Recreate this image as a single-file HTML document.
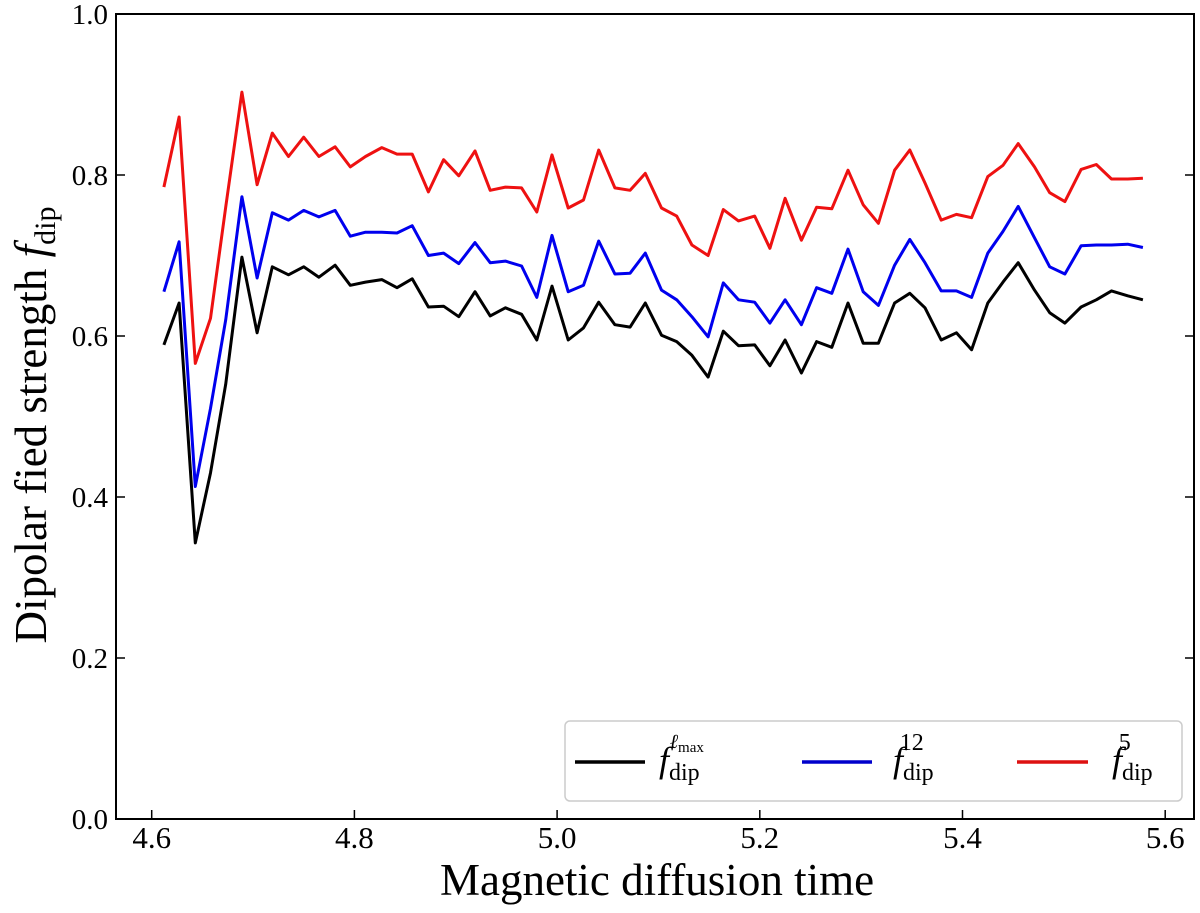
<!DOCTYPE html>
<html><head><meta charset="utf-8"><style>
html,body{margin:0;padding:0;background:#fff;}
svg{display:block;font-family:"Liberation Serif",serif;}
</style></head><body>
<svg id="chart" width="1200" height="913" viewBox="0 0 1200 913">
<rect x="116" y="14" width="1078" height="805" fill="#fff" stroke="#000" stroke-width="2"/>
<g id="xticks"></g>
<g id="yticks"></g>
<g id="lines"></g>
<text x="657" y="895" font-size="45" text-anchor="middle">Magnetic diffusion time</text>
<text transform="translate(46,425) rotate(-90)" font-size="45" text-anchor="middle">Dipolar fied strength <tspan font-style="italic">f</tspan><tspan font-size="30" dy="9">dip</tspan></text>
<g>
<rect x="565" y="721" width="617" height="80" rx="5" fill="#fff" stroke="#ccc" stroke-width="1.5"/>
<line x1="575" y1="762" x2="645" y2="762" stroke="#000" stroke-width="3.5"/>
<text x="659" y="772" font-size="36"><tspan font-style="italic">f</tspan><tspan font-size="24" dy="8">dip</tspan><tspan font-size="20" dy="-32" dx="-30" font-style="italic">ℓ</tspan><tspan font-size="15" dy="4">max</tspan></text>
<line x1="802" y1="762" x2="872" y2="762" stroke="#0000cc" stroke-width="3.5"/>
<text x="893" y="772" font-size="36"><tspan font-style="italic">f</tspan><tspan font-size="24" dy="8">dip</tspan><tspan font-size="24" dy="-30" dx="-34">12</tspan></text>
<line x1="1017" y1="762" x2="1088" y2="762" stroke="#dd1111" stroke-width="3.5"/>
<text x="1112" y="772" font-size="36"><tspan font-style="italic">f</tspan><tspan font-size="24" dy="8">dip</tspan><tspan font-size="24" dy="-30" dx="-34">5</tspan></text>
</g>
</svg>
<script>
const xTickValues = [4.6, 4.8, 5.0, 5.2, 5.4, 5.6];
const xTickLabels = ["4.6", "4.8", "5.0", "5.2", "5.4", "5.6"];
const yTickValues = [0, 0.2, 0.4, 0.6, 0.8, 1.0];
const yTickLabels = ["0.0", "0.2", "0.4", "0.6", "0.8", "1.0"];
const times = [4.612,4.627,4.643,4.658,4.673,4.689,4.704,4.719,4.735,4.750,4.765,4.781,4.796,4.811,4.827,4.842,4.857,4.873,4.888,4.903,4.919,4.934,4.949,4.965,4.980,4.995,5.011,5.026,5.041,5.057,5.072,5.087,5.103,5.118,5.133,5.149,5.164,5.179,5.195,5.210,5.225,5.241,5.256,5.271,5.287,5.302,5.317,5.333,5.348,5.363,5.379,5.394,5.409,5.425,5.440,5.455,5.471,5.486,5.501,5.517,5.532,5.547,5.563,5.578];
const fLmax = [0.589,0.641,0.343,0.43,0.54,0.698,0.604,0.686,0.676,0.686,0.673,0.688,0.663,0.667,0.670,0.660,0.671,0.636,0.637,0.624,0.655,0.625,0.635,0.627,0.595,0.662,0.595,0.610,0.642,0.614,0.611,0.641,0.601,0.593,0.576,0.549,0.606,0.588,0.589,0.563,0.595,0.554,0.593,0.586,0.641,0.591,0.591,0.641,0.653,0.635,0.595,0.604,0.583,0.641,0.667,0.691,0.657,0.629,0.616,0.636,0.645,0.656,0.650,0.645];
const f12 = [0.655,0.717,0.413,0.51,0.62,0.773,0.672,0.753,0.744,0.756,0.748,0.756,0.724,0.729,0.729,0.728,0.737,0.700,0.703,0.690,0.716,0.691,0.693,0.687,0.648,0.725,0.655,0.663,0.718,0.677,0.678,0.703,0.657,0.645,0.624,0.599,0.666,0.645,0.642,0.616,0.645,0.614,0.660,0.653,0.708,0.655,0.638,0.688,0.720,0.691,0.656,0.656,0.648,0.703,0.73,0.761,0.722,0.686,0.677,0.712,0.713,0.713,0.714,0.710];
const f5 = [0.785,0.872,0.566,0.622,0.76,0.903,0.788,0.852,0.823,0.847,0.823,0.835,0.810,0.823,0.834,0.826,0.826,0.779,0.819,0.799,0.830,0.781,0.785,0.784,0.754,0.825,0.759,0.769,0.831,0.784,0.781,0.802,0.759,0.749,0.713,0.700,0.757,0.743,0.749,0.709,0.771,0.719,0.760,0.758,0.806,0.763,0.740,0.806,0.831,0.79,0.744,0.751,0.747,0.798,0.812,0.839,0.81,0.778,0.767,0.807,0.813,0.795,0.795,0.796];

const NS = "http://www.w3.org/2000/svg";
function xScale(t){ return 151.7 + (t - 4.6) * 1013.5; }
function yScale(v){ return 819 - v * 805; }
const xg = document.getElementById('xticks');
const yg = document.getElementById('yticks');
const lg = document.getElementById('lines');
xTickValues.forEach(function(v, i){
  const x = xScale(v);
  const tk = document.createElementNS(NS, 'line');
  tk.setAttribute('x1', x); tk.setAttribute('x2', x);
  tk.setAttribute('y1', 819); tk.setAttribute('y2', 810);
  tk.setAttribute('stroke', '#000'); tk.setAttribute('stroke-width', 1.5);
  
  
  xg.appendChild(tk);
  const tx = document.createElementNS(NS, 'text');
  tx.setAttribute('x', x); tx.setAttribute('y', 848);
  tx.setAttribute('font-size', 31); tx.setAttribute('text-anchor', 'middle');
  tx.textContent = xTickLabels[i];
  
  
  xg.appendChild(tx);
});
yTickValues.forEach(function(v, i){
  const y = yScale(v);
  [[116, 125], [1185, 1194]].forEach(function(p){
    const tk = document.createElementNS(NS, 'line');
    tk.setAttribute('x1', p[0]); tk.setAttribute('x2', p[1]);
    tk.setAttribute('y1', y); tk.setAttribute('y2', y);
    tk.setAttribute('stroke', '#000'); tk.setAttribute('stroke-width', 1.5);
    
    
    yg.appendChild(tk);
  });
  const tx = document.createElementNS(NS, 'text');
  tx.setAttribute('x', 108); tx.setAttribute('y', y + 10);
  tx.setAttribute('font-size', 29); tx.setAttribute('text-anchor', 'end');
  tx.textContent = yTickLabels[i];
  
  
  yg.appendChild(tx);
});
function drawSeries(vals, color, name){
  const pts = vals.map(function(v, i){ return xScale(times[i]).toFixed(1) + ',' + yScale(v).toFixed(1); }).join(' ');
  const pl = document.createElementNS(NS, 'polyline');
  pl.setAttribute('points', pts);
  pl.setAttribute('fill', 'none');
  pl.setAttribute('stroke', color);
  pl.setAttribute('stroke-width', 3);
  pl.setAttribute('stroke-linejoin', 'round');
  
  
  lg.appendChild(pl);
}
drawSeries(fLmax, '#000', 'series-f-lmax');
drawSeries(f12, '#0000ee', 'series-f-12');
drawSeries(f5, '#ee1111', 'series-f-5');
</script>
</body></html>
